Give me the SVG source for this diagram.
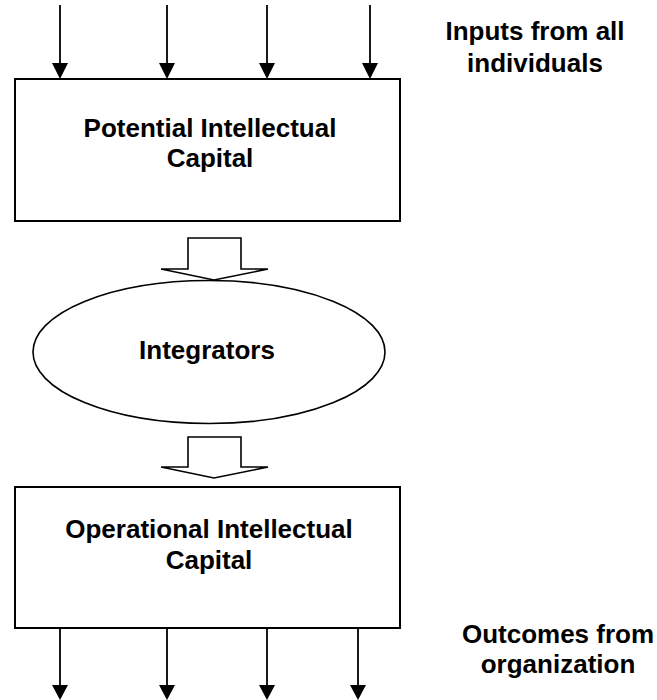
<svg xmlns="http://www.w3.org/2000/svg" width="657" height="700" viewBox="0 0 657 700">
<style>
.box{fill:#fff;stroke:#000;stroke-width:2}
.ln{stroke:#000;stroke-width:1.8;fill:none}
.hd{fill:#000}
.blk{fill:#fff;stroke:#000;stroke-width:1.6;stroke-linejoin:miter}
text{font-family:"Liberation Sans",Arial,sans-serif;font-weight:bold;font-size:26px;text-anchor:middle;fill:#000}
</style>
<rect width="657" height="700" fill="#fff"/>
<g id="connectors">
  <g id="inputs">
    <line class="ln" x1="60" y1="5" x2="60" y2="66"/><polygon class="hd" points="52,63 68,63 60,79"/>
    <line class="ln" x1="167" y1="5" x2="167" y2="66"/><polygon class="hd" points="159,63 175,63 167,79"/>
    <line class="ln" x1="267" y1="5" x2="267" y2="66"/><polygon class="hd" points="259,63 275,63 267,79"/>
    <line class="ln" x1="370" y1="5" x2="370" y2="66"/><polygon class="hd" points="362,63 378,63 370,79"/>
  </g>
  <g id="outputs">
    <line class="ln" x1="60" y1="628" x2="60" y2="688"/><polygon class="hd" points="52,685 68,685 60,700"/>
    <line class="ln" x1="167" y1="628" x2="167" y2="688"/><polygon class="hd" points="159,685 175,685 167,700"/>
    <line class="ln" x1="267" y1="628" x2="267" y2="688"/><polygon class="hd" points="259,685 275,685 267,700"/>
    <line class="ln" x1="358" y1="628" x2="358" y2="688"/><polygon class="hd" points="350,685 366,685 358,700"/>
  </g>
  <polygon id="block1" class="blk" points="188,238 241,238 241,269 268,269 214,280 161,269 188,269"/>
  <polygon id="block2" class="blk" points="188,437 241,437 241,467 268,467 214,478 161,467 188,467"/>
</g>
<g id="potential">
  <rect class="box" x="15" y="79" width="385" height="142"/>
  <text x="210" y="137">Potential Intellectual</text>
  <text x="210" y="167">Capital</text>
</g>
<g id="integrators">
  <ellipse cx="209" cy="352" rx="176" ry="71.5" fill="#fff" stroke="#000" stroke-width="1.6"/>
  <text x="207" y="359">Integrators</text>
</g>
<g id="operational">
  <rect class="box" x="15" y="487" width="385" height="141"/>
  <text x="209" y="538">Operational Intellectual</text>
  <text x="209" y="569">Capital</text>
</g>
<g id="label-inputs">
  <text x="535" y="40">Inputs from all</text>
  <text x="535" y="72">individuals</text>
</g>
<g id="label-outcomes">
  <text x="558" y="643">Outcomes from</text>
  <text x="558" y="673">organization</text>
</g>
</svg>
